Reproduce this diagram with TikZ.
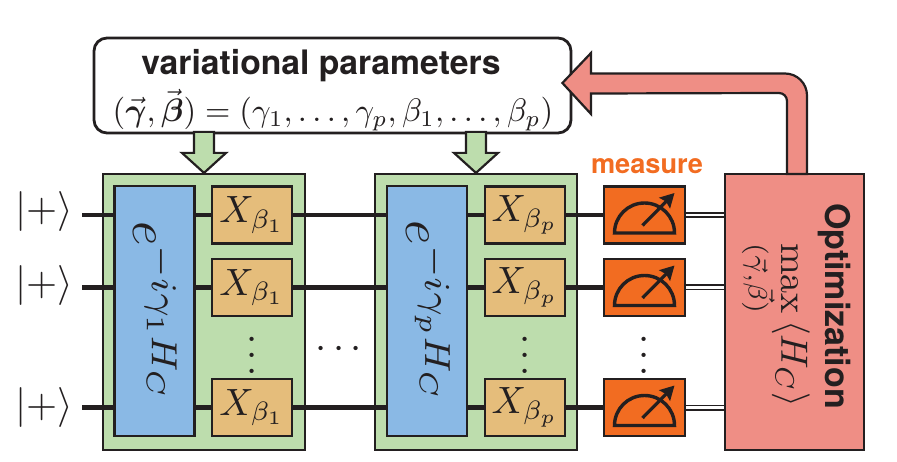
\documentclass[tikz,border=0pt]{standalone}
\usepackage{amsmath}
\usepackage{fontspec}
\setsansfont{TeX Gyre Heros}
\usetikzlibrary{arrows.meta,calc}
\definecolor{ink}{HTML}{231F20}
\definecolor{gfill}{HTML}{BDDDAD}
\definecolor{bfill}{HTML}{8AB9E5}
\definecolor{tfill}{HTML}{E5BD7B}
\definecolor{ofill}{HTML}{F26C21}
\definecolor{rfill}{HTML}{EF8E85}
\tikzset{
  box/.style={draw=ink,line width=2.2pt,inner sep=0pt,minimum width=#1},
  greenbox/.style={box=202pt,fill=gfill,minimum height=276pt},
  bluebox/.style={box=80pt,fill=bfill,minimum height=250pt},
  xbox/.style={box=80pt,fill=tfill,minimum height=57pt},
  measbox/.style={box=81pt,fill=ofill,minimum height=57pt,line width=2.8pt},
  optbox/.style={box=139pt,fill=rfill,minimum height=276pt},
  wire/.style={draw=ink,line width=4.4pt},
  cwire/.style={draw=ink,line width=6pt,postaction={draw=white,line width=2.4pt}},
  blockarrow/.style={draw=ink,line width=2.2pt,line join=miter},
  xlabel/.style={scale=3.8,text=ink},
  ket/.style={scale=4,text=ink},
  dotsm/.style={scale=4,text=ink,inner sep=0pt},
}
\newcommand{\gaugedraw}[1]{%
  \draw[ink,line width=3.4pt,shift={(#1.center)}] (-30,18) .. controls (-30,1.4) and (-16.6,-12) .. (0,-12) .. controls (16.6,-12) and (30,1.4) .. (30,18) -- cycle;
  \draw[ink,line width=3.2pt,-{Stealth[length=14pt,width=15pt,inset=2pt]},shift={(#1.center)}] (-2,10.5) -- (30,-22);
}
\begin{document}
\begin{tikzpicture}[x=1pt,y=-1pt]
\useasboundingbox (0,0) rectangle (897,462);
% containers
\node[greenbox] (g1) at (204,312) {};
\node[greenbox] (g2) at (476,312) {};
% parameter box
\node[draw=ink,line width=2.8pt,rounded corners=13pt,fill=white,minimum width=477pt,minimum height=95pt,inner sep=0pt] (params) at (332.5,85.5) {};
\node[font=\sffamily\bfseries,text=ink,scale=3.37] (ptitle) at (321,66) {variational parameters};
\node[scale=3.25,text=ink] (peq) at (333,110) {$(\vec{\boldsymbol{\gamma}},\vec{\boldsymbol{\beta}})=(\gamma_1,\ldots,\gamma_p,\beta_1,\ldots,\beta_p)$};
% blocks
\node[bluebox] (b1) at (154.5,311) {};
\node[bluebox] (b2) at (427,311) {};
\node[rotate=-90,scale=5.2,text=ink] (b1t) at (155,312) {$e^{-i\gamma_1 H_C}$};
\node[rotate=-90,scale=5.2,text=ink] (b2t) at (428,312) {$e^{-i\gamma_p H_C}$};
% gates
\node[xbox] (x11) at (252,215) {};
\node[xbox] (x12) at (252,287.5) {};
\node[xbox] (x13) at (252,407.5) {};
\node[xbox] (x21) at (525,215) {};
\node[xbox] (x22) at (525,287.5) {};
\node[xbox] (x23) at (525,407.5) {};
\foreach \n in {x11,x12,x13}{\node[xlabel] at (\n) {$X_{\beta_1}$};}
\foreach \n in {x21,x22,x23}{\node[xlabel] at (\n) {$X_{\beta_p}$};}
% measurement
\node[measbox] (m1) at (644.5,215) {};
\node[measbox] (m2) at (644.5,287.5) {};
\node[measbox] (m3) at (644.5,407.5) {};
\gaugedraw{m1}\gaugedraw{m2}\gaugedraw{m3}
\node[font=\sffamily\bfseries,text=ofill,scale=2.72] (mlabel) at (647,166) {measure};
% optimisation
\node[optbox] (opt) at (794.5,312) {};
\node[rotate=-90,font=\sffamily\bfseries,scale=3.4,text=ink] (opttitle) at (834,306) {Optimization};
\node[rotate=-90,scale=3.8,text=ink,anchor=center] (optmath) at (774,325) {$\displaystyle\max_{(\vec{\gamma},\vec{\beta})}\,\langle H_C\rangle$};
% kets
\coordinate (w1) at (82,215);
\coordinate (w2) at (82,287.5);
\coordinate (w3) at (82,407.5);
\node[ket] (k1) at (44,212) {$|+\rangle$};
\node[ket] (k2) at (44,286) {$|+\rangle$};
\node[ket] (k3) at (44,407) {$|+\rangle$};
% wires
\draw[wire] (w1) -- (b1.west |- w1);
\draw[wire] (w2) -- (b1.west |- w2);
\draw[wire] (w3) -- (b1.west |- w3);
\draw[wire] (b1.east |- x11) -- (x11.west);
\draw[wire] (b1.east |- x12) -- (x12.west);
\draw[wire] (b1.east |- x13) -- (x13.west);
\draw[wire] (x11.east) -- (b2.west |- x11);
\draw[wire] (x12.east) -- (b2.west |- x12);
\draw[wire] (x13.east) -- (b2.west |- x13);
\draw[wire] (b2.east |- x21) -- (x21.west);
\draw[wire] (b2.east |- x22) -- (x22.west);
\draw[wire] (b2.east |- x23) -- (x23.west);
\draw[wire] (x21.east) -- (m1.west);
\draw[wire] (x22.east) -- (m2.west);
\draw[wire] (x23.east) -- (m3.west);
\draw[cwire] (m1.east) -- (opt.west |- m1);
\draw[cwire] (m2.east) -- (opt.west |- m2);
\draw[cwire] (m3.east) -- (opt.west |- m3);
% dots
\node[dotsm] (hd) at (342,350) {$\cdots$};
\node[dotsm] (vd1) at (252,343) {$\vdots$};
\node[dotsm] (vd2) at (525,343) {$\vdots$};
\node[dotsm] (vd3) at (644.5,343) {$\vdots$};
% block arrows
\foreach \g in {g1,g2}{
  \draw[blockarrow,fill=gfill,shift={(\g.north)}] (0,0) -- (-22,-20) -- (-10,-20) -- (-10,-41) -- (10,-41) -- (10,-20) -- (22,-20) -- cycle;
}
\draw[blockarrow,fill=rfill] (params.east |- 0,83) ++(-10,0) -- (591,53) -- (591,73.5) -- (785,73.5) arc[start angle=-90,end angle=0,radius=22] -- (807,174) -- (787,174) -- (787,101) arc[start angle=0,end angle=-90,radius=8] -- (591,93.5) -- (591,114) -- cycle;
\end{tikzpicture}
\end{document}
